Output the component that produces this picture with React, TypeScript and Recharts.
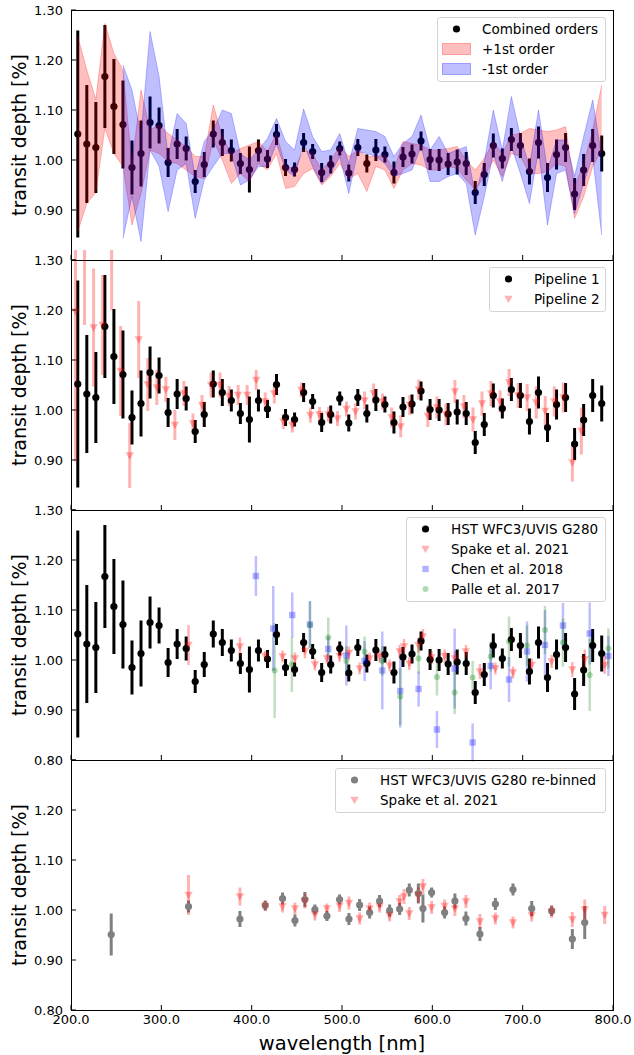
import React from 'react';
import { ComposedChart, Scatter, Area, XAxis, YAxis, ErrorBar } from 'recharts';

const FONT = '"DejaVu Sans", sans-serif';
const W = 634;
const PL = 71;
const PR = 613;
const PH = 250;
const MT = 10;

const xTicks = [200, 300, 400, 500, 600, 700, 800];
const yTicks = [0.8, 0.9, 1.0, 1.1, 1.2, 1.3];

// Combined orders / Pipeline 1 / HST WFC3/UVIS G280
const combinedWl = [207.5, 217.5, 227.5, 237.5, 247.5, 257.5, 267.5, 277.5, 287.5, 297.5,
  307.5, 317.5, 327.5, 337.5, 347.5, 357.5, 367.5, 377.5, 387.5, 397.5,
  407.5, 417.5, 427.5, 437.5, 447.5, 457.5, 467.5, 477.5, 487.5, 497.5,
  507.5, 517.5, 527.5, 537.5, 547.5, 557.5, 567.5, 577.5, 587.5, 597.5,
  607.5, 617.5, 627.5, 637.5, 647.5, 657.5, 667.5, 677.5, 687.5, 697.5,
  707.5, 717.5, 727.5, 737.5, 747.5, 757.5, 767.5, 777.5, 787.5];
const combinedDepth = [1.052, 1.032, 1.025, 1.167, 1.107, 1.071, 0.985, 1.013, 1.075, 1.069,
  0.995, 1.032, 1.023, 0.957, 0.991, 1.052, 1.035, 1.019, 0.993, 0.981,
  1.019, 1.002, 1.051, 0.985, 0.981, 1.035, 1.017, 0.975, 0.991, 1.023,
  0.974, 1.025, 0.993, 1.020, 1.011, 0.975, 1.006, 1.012, 1.038, 1.001,
  1.000, 0.992, 0.996, 0.993, 0.935, 0.971, 1.029, 1.003, 1.041, 1.029,
  0.977, 1.035, 0.965, 1.011, 1.025, 0.932, 0.980, 1.029, 1.013];
const combinedErr = [0.207, 0.118, 0.091, 0.103, 0.095, 0.088, 0.054, 0.066, 0.052, 0.036,
  0.029, 0.030, 0.024, 0.023, 0.025, 0.027, 0.027, 0.022, 0.021, 0.046,
  0.022, 0.018, 0.021, 0.017, 0.014, 0.019, 0.015, 0.019, 0.018, 0.014,
  0.017, 0.017, 0.018, 0.022, 0.016, 0.022, 0.020, 0.019, 0.019, 0.021,
  0.022, 0.022, 0.025, 0.023, 0.023, 0.023, 0.024, 0.020, 0.023, 0.025,
  0.026, 0.032, 0.029, 0.030, 0.029, 0.032, 0.032, 0.033, 0.036];

// +1st order band
const plusLo = [0.857, 0.913, 0.935, 1.063, 1.013, 0.987, 0.870, 0.933, 1.020, 1.013,
  0.997, 0.993, 0.980, 0.967, 0.963, 1.040, 1.000, 0.953, 0.973, 0.957,
  0.993, 0.980, 1.013, 0.943, 0.947, 0.973, 0.983, 0.950, 0.967, 0.993,
  0.963, 0.973, 0.937, 0.987, 0.980, 0.943, 0.980, 0.993, 0.990, 0.980,
  0.980, 0.987, 0.983, 0.960, 0.940, 0.967, 1.000, 0.967, 1.013, 1.007,
  0.973, 0.973, 0.977, 0.993, 0.987, 0.883, 0.927, 0.987, 1.020];
const plusHi = [1.247, 1.180, 1.121, 1.273, 1.213, 1.180, 0.990, 1.140, 1.060, 1.070,
  1.053, 1.040, 1.027, 1.007, 1.007, 1.110, 1.047, 1.013, 1.023, 1.030,
  1.037, 1.017, 1.053, 0.987, 0.983, 1.020, 1.013, 0.980, 1.000, 1.027,
  1.007, 1.020, 1.007, 1.007, 1.010, 0.980, 1.037, 1.033, 1.030, 1.020,
  1.020, 1.023, 1.027, 1.000, 0.980, 1.003, 1.037, 1.013, 1.050, 1.053,
  1.063, 1.060, 1.057, 1.060, 1.067, 0.947, 0.993, 1.060, 1.150];
// -1st order band (starts at 257.5 nm)
const minusLo = [null, null, null, null, null, 0.843, 0.927, 0.837, 1.020, 0.987,
  0.897, 0.980, 0.993, 0.883, 0.960, 0.987, 1.013, 1.013, 0.950, 0.960,
  0.987, 0.987, 1.033, 0.980, 0.967, 1.033, 0.987, 0.953, 0.973, 1.007,
  0.933, 1.017, 1.013, 1.007, 0.993, 0.967, 0.973, 0.980, 1.027, 0.957,
  0.957, 0.967, 0.973, 0.953, 0.850, 0.927, 1.013, 0.957, 1.027, 0.973,
  0.913, 1.020, 0.870, 0.973, 0.980, 0.893, 0.953, 1.007, 0.850];
const minusHi = [null, null, null, null, null, 1.190, 1.140, 1.050, 1.257, 1.167,
  1.007, 1.093, 1.073, 0.967, 1.037, 1.060, 1.100, 1.093, 1.013, 1.000,
  1.020, 1.043, 1.083, 1.037, 1.020, 1.102, 1.047, 1.017, 1.020, 1.053,
  0.993, 1.063, 1.060, 1.057, 1.047, 1.007, 1.033, 1.047, 1.090, 1.020,
  1.047, 1.013, 1.020, 1.027, 0.930, 0.997, 1.100, 1.020, 1.127, 1.047,
  0.987, 1.100, 0.980, 1.040, 1.040, 0.967, 1.047, 1.120, 1.007];

// Pipeline 2
const pipe2Wl = [205, 215, 225, 235, 245, 255, 265, 275, 285, 295,
  305, 315, 325, 335, 345, 355, 365, 375, 385, 395,
  405, 415, 425, 435, 445, 455, 465, 475, 485, 495,
  505, 515, 525, 535, 545, 555, 565, 575, 585, 595,
  605, 615, 625, 635, 645, 655, 665, 675, 685, 695,
  705, 715, 725, 735, 745, 755, 765];
const pipe2Depth = [1.197, 1.330, 1.165, 1.170, 1.330, 1.078, 0.909, 1.141, 1.051, 1.045,
  1.041, 0.970, 1.033, 0.973, 1.010, 1.050, 1.050, 1.028, 1.030, 1.030,
  1.060, 1.017, 1.033, 0.977, 0.970, 1.040, 0.990, 0.991, 0.991, 0.983,
  1.002, 0.997, 1.019, 1.033, 1.017, 0.985, 0.967, 1.010, 1.041, 0.988,
  1.005, 0.991, 1.037, 1.007, 0.981, 1.013, 1.033, 1.017, 1.055, 1.029,
  1.025, 1.015, 0.998, 1.017, 1.025, 0.895, 0.958];
const pipe2Err = [0.300, 0.160, 0.118, 0.100, 0.130, 0.090, 0.065, 0.077, 0.053, 0.035,
  0.025, 0.030, 0.025, 0.020, 0.020, 0.025, 0.025, 0.020, 0.020, 0.020,
  0.020, 0.018, 0.020, 0.015, 0.015, 0.015, 0.015, 0.015, 0.015, 0.015,
  0.015, 0.016, 0.018, 0.020, 0.016, 0.020, 0.022, 0.020, 0.020, 0.022,
  0.022, 0.022, 0.023, 0.023, 0.024, 0.024, 0.025, 0.022, 0.027, 0.025,
  0.027, 0.032, 0.030, 0.030, 0.030, 0.038, 0.047];

// Spake et al. 2021
const spakeWl = [330.1, 387.0, 415.0, 434.2, 447.9, 458.9, 470.0, 483.3, 497.3, 507.7,
  519.5, 530.6, 541.6, 552.7, 563.8, 568.6, 574.5, 584.5, 589.6, 599.2,
  613.6, 625.0, 637.2, 652.7, 669.8, 689.3, 710.0, 732.1, 755.0, 768.7, 790.8];
const spakeDepth = [1.030, 1.027, 1.008, 1.007, 1.003, 1.018, 0.991, 1.003, 1.008, 1.014,
  0.983, 1.003, 1.007, 0.989, 1.017, 1.027, 0.993, 1.030, 1.047, 1.005,
  1.008, 1.003, 1.017, 0.977, 0.983, 0.975, 0.990, 0.997, 0.981, 1.001, 0.990];
const spakeErr = [0.040, 0.018, 0.010, 0.012, 0.012, 0.015, 0.012, 0.010, 0.012, 0.013,
  0.012, 0.012, 0.012, 0.012, 0.013, 0.015, 0.013, 0.015, 0.015, 0.013,
  0.013, 0.015, 0.013, 0.015, 0.012, 0.012, 0.013, 0.013, 0.015, 0.020, 0.018];

// Chen et al. 2018
const chenWl = [404.7, 423.9, 444.9, 464.5, 484.8, 504.8, 525.0, 544.6, 564.5, 584.8,
  605.1, 624.7, 644.6, 664.6, 684.9, 704.8, 724.7, 744.6, 774.2, 794.9];
const chenDepth = [1.168, 1.063, 1.090, 1.071, 1.022, 1.009, 0.998, 0.979, 0.938, 0.942,
  0.861, 0.983, 0.835, 0.988, 0.961, 1.017, 1.030, 1.069, 1.053, 1.008];
const chenErr = [0.040, 0.085, 0.045, 0.047, 0.025, 0.060, 0.040, 0.078, 0.073, 0.035,
  0.037, 0.080, 0.038, 0.047, 0.045, 0.060, 0.070, 0.045, 0.062, 0.040];

// Palle et al. 2017
const palleWl = [425.4, 444.5, 464.5, 484.8, 504.8, 525.0, 544.6, 564.5, 584.8, 605.1,
  624.7, 644.6, 664.6, 684.9, 704.8, 724.7, 744.6, 774.2, 794.9];
const palleDepth = [0.979, 0.991, 1.070, 1.045, 0.998, 1.017, 0.998, 0.927, 1.003, 0.966,
  0.935, 0.965, 1.007, 1.037, 1.029, 1.060, 1.035, 0.970, 1.023];
const palleErr = [0.095, 0.055, 0.047, 0.040, 0.030, 0.030, 0.030, 0.057, 0.030, 0.037,
  0.043, 0.033, 0.030, 0.050, 0.040, 0.048, 0.048, 0.072, 0.040];

// HST re-binned
const rebinWl = [244.5, 330.1, 387.0, 415.0, 434.2, 447.9, 458.9, 470.0, 483.3, 497.3,
  507.7, 519.5, 530.6, 541.6, 552.7, 563.8, 574.5, 584.5, 589.6, 599.2,
  613.6, 625.0, 637.2, 652.7, 669.8, 689.3, 710.0, 732.1, 755.0, 768.7];
const rebinDepth = [0.951, 1.007, 0.982, 1.009, 1.023, 0.979, 1.021, 1.001, 0.988, 1.021,
  0.982, 1.010, 0.995, 1.018, 0.999, 1.002, 1.040, 1.033, 1.003, 1.035,
  0.995, 1.018, 0.983, 0.952, 1.012, 1.041, 1.003, 0.998, 0.942, 0.975];
const rebinErr = [0.042, 0.012, 0.016, 0.010, 0.012, 0.012, 0.015, 0.010, 0.010, 0.010,
  0.012, 0.012, 0.012, 0.012, 0.012, 0.012, 0.013, 0.020, 0.028, 0.010,
  0.012, 0.015, 0.014, 0.014, 0.012, 0.012, 0.015, 0.010, 0.020, 0.033];

const rows = (wl: number[], v: number[], e: number[]) => wl.map((w, i) => ({ wl: w, v: v[i], e: e[i] }));
const combinedRows = rows(combinedWl, combinedDepth, combinedErr);
const pipe2Rows = rows(pipe2Wl, pipe2Depth, pipe2Err);
const spakeRows = rows(spakeWl, spakeDepth, spakeErr);
const chenRows = rows(chenWl, chenDepth, chenErr);
const palleRows = rows(palleWl, palleDepth, palleErr);
const rebinRows = rows(rebinWl, rebinDepth, rebinErr);
const bandRows = combinedWl.map((w, i) => ({ wl: w, pLo: plusLo[i], pHi: plusHi[i], mLo: minusLo[i], mHi: minusHi[i] }));

const RED = '#ff0000';
const BLUE = '#0000ff';
const GREEN = '#008000';
const GREY = '#808080';

const dot = (r: number, color: string, op = 1) => (p: any) =>
  <circle cx={p.cx} cy={p.cy} r={r} fill={color} fillOpacity={op} />;
const triDown = (color: string, op: number) => (p: any) =>
  <polygon points={`${p.cx - 4.2},${p.cy - 3.2} ${p.cx + 4.2},${p.cy - 3.2} ${p.cx},${p.cy + 4.2}`} fill={color} fillOpacity={op} />;
const square = (color: string, op: number) => (p: any) =>
  <rect x={p.cx - 3.2} y={p.cy - 3.2} width={6.4} height={6.4} fill={color} fillOpacity={op} />;

const makeXTick = (showLabel: boolean) => (p: any) => {
  const { x, y, payload } = p;
  return (
    <g>
      <line x1={x} x2={x} y1={y} y2={y - 5} stroke="#000" strokeWidth={1} />
      {showLabel && (
        <text x={x} y={y + 14} textAnchor="middle" fontSize={13} fontFamily={FONT} fill="#000">
          {Number(payload.value).toFixed(1)}
        </text>
      )}
    </g>
  );
};

const makeYTick = (hidden: number[]) => (p: any) => {
  const { x, y, payload } = p;
  const v = Number(payload.value);
  const hide = hidden.some((h) => Math.abs(h - v) < 1e-6);
  return (
    <g>
      <line x1={x} x2={x + 5} y1={y} y2={y} stroke="#000" strokeWidth={1} />
      {!hide && (
        <text x={x - 8} y={y} dy="0.36em" textAnchor="end" fontSize={13} fontFamily={FONT} fill="#000">
          {v.toFixed(2)}
        </text>
      )}
    </g>
  );
};

const yLabel = (p: any) => {
  const vb = p.viewBox || { x: 0, y: MT, width: PL, height: PH };
  const cx = vb.x + 19;
  const cy = vb.y + vb.height / 2;
  return (
    <text x={cx} y={cy} transform={`rotate(-90 ${cx} ${cy})`} textAnchor="middle" dominantBaseline="central"
      fontSize={19} fontFamily={FONT} fill="#000">transit depth [%]</text>
  );
};

const xLabel = (p: any) => {
  const vb = p.viewBox || { x: PL, y: MT + PH, width: PR - PL, height: 45 };
  return (
    <text x={vb.x + vb.width / 2} y={vb.y + 40} textAnchor="middle" fontSize={19.5} fontFamily={FONT} fill="#000">
      wavelength [nm]
    </text>
  );
};

type LegendEntry = { label: string; kind: 'dot' | 'patch' | 'tri' | 'square' | 'circle'; color: string; op?: number };

function LegendBox({ left, top, width, entries }: { left: number; top: number; width: number; entries: LegendEntry[] }) {
  return (
    <div style={{
      position: 'absolute', left, top, width, height: entries.length * 20 + 5, boxSizing: 'border-box',
      border: '1px solid #d4d4d4', borderRadius: 3, background: 'rgba(255,255,255,0.85)', paddingTop: 1,
      fontFamily: FONT, fontSize: 13.5, color: '#000', pointerEvents: 'none'
    }}>
      {entries.map((e) => (
        <div key={e.label} style={{ display: 'flex', alignItems: 'center', height: 20 }}>
          <svg width={44} height={20} style={{ flex: 'none' }}>
            {e.kind === 'dot' && <circle cx={18.5} cy={10} r={3.6} fill={e.color} fillOpacity={e.op ?? 1} />}
            {e.kind === 'circle' && <circle cx={18.5} cy={10} r={3} fill={e.color} fillOpacity={e.op ?? 1} />}
            {e.kind === 'patch' && <rect x={4.5} y={4.5} width={28} height={11} fill={e.color} fillOpacity={0.25} stroke={e.color} strokeOpacity={0.3} />}
            {e.kind === 'tri' && <polygon points="14.3,6.8 22.7,6.8 18.5,14.2" fill={e.color} fillOpacity={e.op ?? 1} />}
            {e.kind === 'square' && <rect x={15.3} y={6.8} width={6.4} height={6.4} fill={e.color} fillOpacity={e.op ?? 1} />}
          </svg>
          <span style={{ whiteSpace: 'nowrap', lineHeight: '20px' }}>{e.label}</span>
        </div>
      ))}
    </div>
  );
}

function Panel({ plotTop, data, showX, hiddenY, legend, children }: any) {
  const xH = showX ? 45 : 12;
  const chartTop = plotTop - MT;
  return (
    <>
      <div style={{ position: 'absolute', left: 0, top: chartTop }}>
        <ComposedChart width={W} height={MT + PH + xH} data={data}
          margin={{ top: MT, right: W - PR, bottom: 0, left: 0 }}>
          <XAxis dataKey="wl" type="number" domain={[200, 800]} ticks={xTicks} allowDataOverflow
            interval={0} height={xH} tickLine={false} axisLine={false} tickSize={0} tickMargin={0}
            tick={makeXTick(showX)} label={showX ? xLabel : undefined} />
          <YAxis type="number" domain={[0.8, 1.3]} ticks={yTicks} allowDataOverflow interval={0}
            width={PL} tickLine={false} axisLine={false} tickSize={0} tickMargin={0}
            tick={makeYTick(hiddenY)} label={yLabel} />
          {children}
        </ComposedChart>
      </div>
      <div style={{
        position: 'absolute', left: PL, top: plotTop, width: PR - PL + 1, height: PH + 1,
        boxSizing: 'border-box', border: '1px solid #000', pointerEvents: 'none'
      }} />
      {legend}
    </>
  );
}

export default function App() {
  return (
    <div style={{ position: 'absolute', left: 0, top: 0, width: W, height: 1055, background: '#fff', overflow: 'hidden' }}>
      <Panel plotTop={10} data={bandRows} showX={false} hiddenY={[0.8]}
        legend={<LegendBox left={437} top={17} width={169} entries={[
          { label: 'Combined orders', kind: 'dot', color: '#000' },
          { label: '+1st order', kind: 'patch', color: RED },
          { label: '-1st order', kind: 'patch', color: BLUE },
        ]} />}>
        <Scatter data={combinedRows} dataKey="v" isAnimationActive={false} shape={dot(3.6, '#000')}>
          <ErrorBar dataKey="e" direction="y" width={0} stroke="#000" strokeWidth={3} />
        </Scatter>
        <Area dataKey={(d: any) => [d.pLo, d.pHi]} type="linear" isAnimationActive={false} zIndex={700}
          fill={RED} fillOpacity={0.25} stroke={RED} strokeOpacity={0.25} strokeWidth={1} dot={false} activeDot={false} />
        <Area dataKey={(d: any) => (d.mHi == null ? null : [d.mLo, d.mHi])} type="linear" isAnimationActive={false} zIndex={700}
          fill={BLUE} fillOpacity={0.25} stroke={BLUE} strokeOpacity={0.25} strokeWidth={1} dot={false} activeDot={false} />
      </Panel>

      <Panel plotTop={260} showX={false} hiddenY={[0.8]}
        legend={<LegendBox left={489} top={267} width={117} entries={[
          { label: 'Pipeline 1', kind: 'dot', color: '#000' },
          { label: 'Pipeline 2', kind: 'tri', color: RED, op: 0.3 },
        ]} />}>
        <Scatter data={combinedRows} dataKey="v" isAnimationActive={false} shape={dot(3.6, '#000')}>
          <ErrorBar dataKey="e" direction="y" width={0} stroke="#000" strokeWidth={3} />
        </Scatter>
        <Scatter data={pipe2Rows} dataKey="v" isAnimationActive={false} shape={triDown(RED, 0.3)}>
          <ErrorBar dataKey="e" direction="y" width={0} stroke={RED} strokeOpacity={0.3} strokeWidth={3} />
        </Scatter>
      </Panel>

      <Panel plotTop={510} showX={false} hiddenY={[]}
        legend={<LegendBox left={406} top={517} width={200} entries={[
          { label: 'HST WFC3/UVIS G280', kind: 'dot', color: '#000' },
          { label: 'Spake et al. 2021', kind: 'tri', color: RED, op: 0.3 },
          { label: 'Chen et al. 2018', kind: 'square', color: BLUE, op: 0.3 },
          { label: 'Palle et al. 2017', kind: 'circle', color: GREEN, op: 0.3 },
        ]} />}>
        <Scatter data={combinedRows} dataKey="v" isAnimationActive={false} shape={dot(3.6, '#000')}>
          <ErrorBar dataKey="e" direction="y" width={0} stroke="#000" strokeWidth={3} />
        </Scatter>
        <Scatter data={spakeRows} dataKey="v" isAnimationActive={false} shape={triDown(RED, 0.3)}>
          <ErrorBar dataKey="e" direction="y" width={0} stroke={RED} strokeOpacity={0.3} strokeWidth={2.5} />
        </Scatter>
        <Scatter data={chenRows} dataKey="v" isAnimationActive={false} shape={square(BLUE, 0.3)}>
          <ErrorBar dataKey="e" direction="y" width={0} stroke={BLUE} strokeOpacity={0.25} strokeWidth={2.5} />
        </Scatter>
        <Scatter data={palleRows} dataKey="v" isAnimationActive={false} shape={dot(3, GREEN, 0.3)}>
          <ErrorBar dataKey="e" direction="y" width={0} stroke={GREEN} strokeOpacity={0.25} strokeWidth={2.5} />
        </Scatter>
      </Panel>

      <Panel plotTop={760} showX={true} hiddenY={[1.3]}
        legend={<LegendBox left={335} top={768} width={271} entries={[
          { label: 'HST WFC3/UVIS G280 re-binned', kind: 'dot', color: GREY },
          { label: 'Spake et al. 2021', kind: 'tri', color: RED, op: 0.3 },
        ]} />}>
        <Scatter data={rebinRows} dataKey="v" isAnimationActive={false} shape={dot(3.6, GREY)}>
          <ErrorBar dataKey="e" direction="y" width={0} stroke={GREY} strokeWidth={3} />
        </Scatter>
        <Scatter data={spakeRows} dataKey="v" isAnimationActive={false} shape={triDown(RED, 0.3)}>
          <ErrorBar dataKey="e" direction="y" width={0} stroke={RED} strokeOpacity={0.3} strokeWidth={3} />
        </Scatter>
      </Panel>
    </div>
  );
}
